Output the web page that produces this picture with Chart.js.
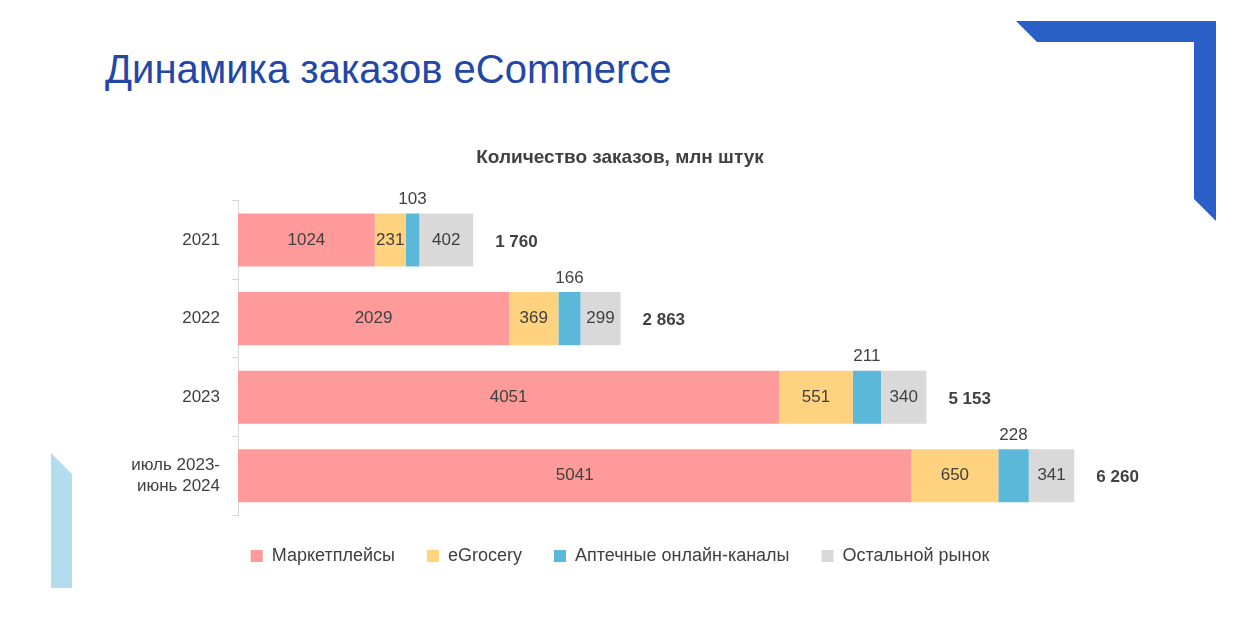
<!DOCTYPE html>
<html>
<head>
<meta charset="utf-8">
<script src="https://cdn.jsdelivr.net/npm/chart.js@4"></script>
<style>
  body { margin: 0; width: 1240px; height: 624px; background: #fff; position: relative; overflow: hidden; font-family: "Liberation Sans", Arial, sans-serif; }
  #head { position: absolute; left: 105px; top: 47px; font-size: 40px; color: #2347a6; }
  #wrap { position: absolute; left: 0; top: 130px; width: 1240px; height: 445px; }
  #deco { position: absolute; left: 0; top: 0; }
</style>
</head>
<body>
<svg id="deco" width="1240" height="624">
  <polygon points="1016,21 1216,21 1216,221 1194,199 1194,42 1037,42" fill="#2a5fc8"/>
  <polygon points="51,453 72,474 72,588 51,588" fill="#b3ddef"/>
</svg>
<div id="head">Динамика заказов eCommerce</div>
<div id="wrap"><canvas id="myChart"></canvas></div>
<script>
var years = ['2021', '2022', '2023', ['июль 2023-', 'июнь 2024']];
var marketplaces = [1024, 2029, 4051, 5041];
var egrocery = [231, 369, 551, 650];
var pharmacy = [103, 166, 211, 228];
var otherMarket = [402, 299, 340, 341];
var totals = ['1 760', '2 863', '5 153', '6 260'];

var textColor = '#404040';

// values inside the segments, pharmacy above the bar, totals to the right
var labelPlugin = {
    id: 'labels',
    afterDatasetsDraw: function (chart) {
        var c = chart.ctx;
        c.save();
        c.font = '17px "Liberation Sans", Arial, sans-serif';
        c.fillStyle = textColor;
        c.textBaseline = 'middle';
        chart.data.datasets.forEach(function (ds, di) {
            var meta = chart.getDatasetMeta(di);
            meta.data.forEach(function (bar, i) {
                c.textAlign = 'center';
                var mid = (bar.x + bar.base) / 2;
                if (di == 2)
                    c.fillText(ds.data[i], mid, bar.y - bar.height / 2 - 14);
                else
                    c.fillText(ds.data[i], mid, bar.y);
            });
        });
        var last = chart.getDatasetMeta(3);
        c.font = 'bold 17px "Liberation Sans", Arial, sans-serif';
        c.textAlign = 'left';
        last.data.forEach(function (bar, i) {
            c.fillText(totals[i], bar.x + 22, bar.y + 2);
        });
        c.restore();
    }
};

var ctx = document.getElementById('myChart');
var myChart = new Chart(ctx, {
    type: 'bar',
    data: {
        labels: years,
        datasets: [
            { label: 'Маркетплейсы', data: marketplaces, backgroundColor: '#ff9a9a' },
            { label: 'eGrocery', data: egrocery, backgroundColor: '#ffd27f' },
            { label: 'Аптечные онлайн-каналы', data: pharmacy, backgroundColor: '#5bb8d9' },
            { label: 'Остальной рынок', data: otherMarket, backgroundColor: '#d9d9d9' }
        ]
    },
    options: {
        indexAxis: 'y',
        responsive: true,
        maintainAspectRatio: false,
        animation: false,
        layout: { padding: { left: 0, right: 0, top: 0, bottom: 0 } },
        datasets: { bar: { barPercentage: 0.675, categoryPercentage: 1 } },
        plugins: {
            title: {
                display: true,
                text: 'Количество заказов, млн штук',
                color: textColor,
                font: { family: '"Liberation Sans", Arial, sans-serif', size: 19, weight: 'bold' },
                padding: { top: 16, bottom: 32 }
            },
            legend: {
                position: 'bottom',
                labels: {
                    color: textColor,
                    boxWidth: 12, boxHeight: 12,
                    padding: 32,
                    font: { family: '"Liberation Sans", Arial, sans-serif', size: 18 }
                }
            },
            tooltip: { enabled: false }
        },
        scales: {
            x: { stacked: true, display: false, min: 0, max: 7500 },
            y: {
                stacked: true,
                afterFit: function (s) { s.width = 238; },
                border: { color: '#d9d9d9' },
                grid: { offset: true, drawOnChartArea: false, tickLength: 6, color: '#d9d9d9' },
                ticks: { color: textColor, padding: 12, font: { family: '"Liberation Sans", Arial, sans-serif', size: 17 } }
            }
        }
    },
    plugins: [labelPlugin]
});
</script>
</body>
</html>
